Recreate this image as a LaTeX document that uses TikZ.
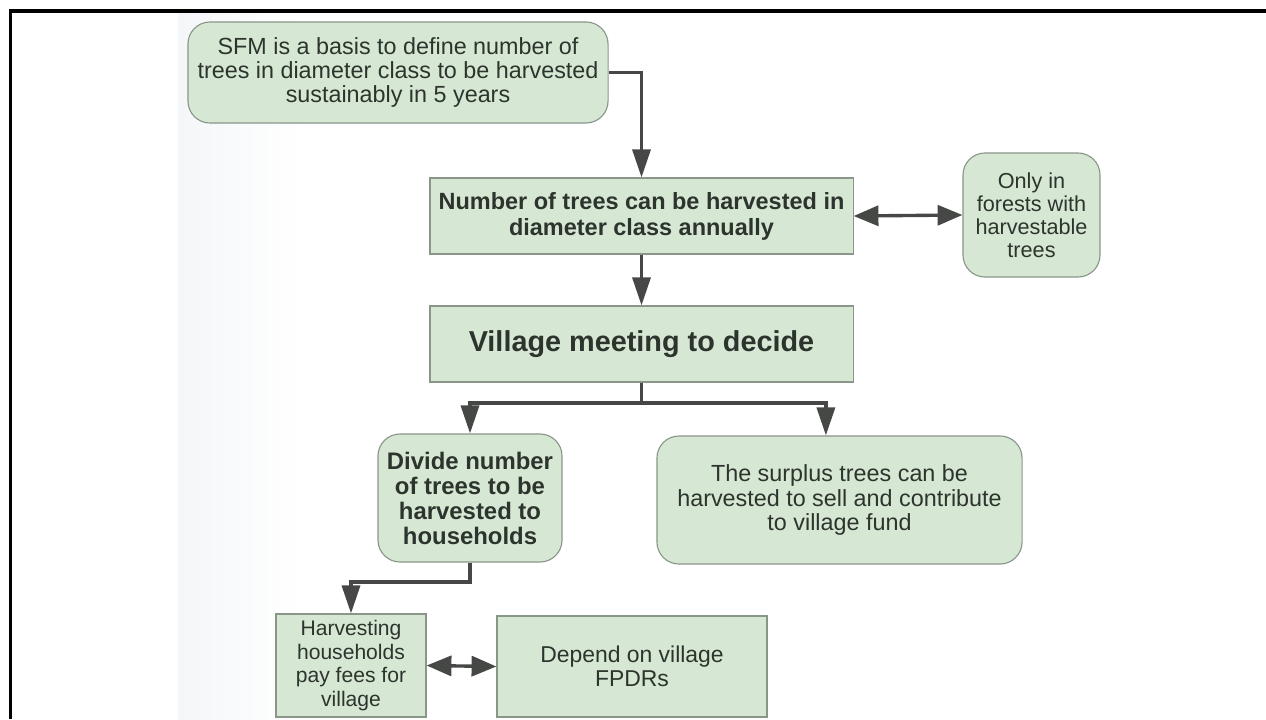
\documentclass[tikz,border=0pt]{standalone}
\usepackage{fontspec}
\setmainfont{Liberation Sans}
\usetikzlibrary{arrows.meta}
\definecolor{boxfill}{RGB}{214,232,211}
\definecolor{boxline}{RGB}{138,150,138}
\definecolor{linkcol}{RGB}{70,72,70}
\definecolor{inkcol}{RGB}{45,52,46}
\definecolor{scantint}{RGB}{244,246,249}
\tikzset{
    box/.style={draw=boxline, line width=0.8pt, fill=boxfill, text=inkcol, align=center, inner sep=0pt},
    rbox/.style={box, rounded corners=0.55cm},
    link/.style={draw=linkcol, line width=2.4pt},
    flow/.style={link, -{Triangle[length=0.7cm,width=0.45cm]}},
    both/.style={link, {Triangle[length=0.62cm,width=0.5cm]}-{Triangle[length=0.62cm,width=0.5cm]}}
}
\begin{document}
\begin{tikzpicture}[x=0.025cm, y=-0.025cm]
    \useasboundingbox (0,0) rectangle (1266,719);
    \shade[left color=scantint, right color=white] (178,13) rectangle (300,719);
    \draw[line width=2.2pt] (10.5,719) -- (10.5,11) -- (1266,11);

    \node[rbox, minimum width=10.5cm, minimum height=2.525cm, font=\fontsize{16.6}{17.1}\selectfont] (sfm) at (398,72.5) {SFM is a basis to define number of\\trees in diameter class to be harvested\\sustainably in 5 years};
    \node[box, minimum width=10.575cm, minimum height=1.9cm, font=\bfseries\fontsize{16.7}{18.5}\selectfont] (annual) at (641.5,216) {Number of trees can be harvested in\\diameter class annually};
    \node[rbox, minimum width=3.425cm, minimum height=3.1cm, font=\fontsize{15.4}{16.4}\selectfont] (only) at (1031.5,215) {Only in\\forests with\\harvestable\\trees};
    \node[box, minimum width=10.575cm, minimum height=1.9cm, font=\bfseries\fontsize{20.5}{22}\selectfont] (meeting) at (641.5,344) {Village meeting to decide};
    \node[rbox, minimum width=4.6cm, minimum height=3.2cm, font=\bfseries\fontsize{17}{17.8}\selectfont] (divide) at (470,498) {Divide number\\of trees to be\\harvested to\\households};
    \node[rbox, minimum width=9.125cm, minimum height=3.2cm, font=\fontsize{16.6}{17.4}\selectfont] (surplus) at (839.5,500) {The surplus trees can be\\harvested to sell and contribute\\to village fund};
    \node[box, minimum width=3.75cm, minimum height=2.575cm, font=\fontsize{15}{17}\selectfont] (pay) at (351,665.5) {Harvesting\\households\\pay fees for\\village};
    \node[box, minimum width=6.75cm, minimum height=2.525cm, font=\fontsize{16.3}{17}\selectfont] (fpdr) at (632,666.5) {Depend on village\\FPDRs};

    \coordinate (split) at (641.5,403);
    \coordinate (drop) at (470,582);

    \draw[flow] (sfm.east) -| (annual.north);
    \draw[both] (annual.east) -- (only.west);
    \draw[flow] (annual.south) -- (meeting.north);
    \draw[link] (meeting.south) -- (split);
    \draw[flow] (split) -| (divide.north);
    \draw[flow] (split) -| ([xshift=-0.34cm]surplus.north);
    \draw[flow] (divide.south) -- (drop) -| (pay.north);
    \draw[both] (pay.east) -- (fpdr.west);
\end{tikzpicture}
\end{document}
